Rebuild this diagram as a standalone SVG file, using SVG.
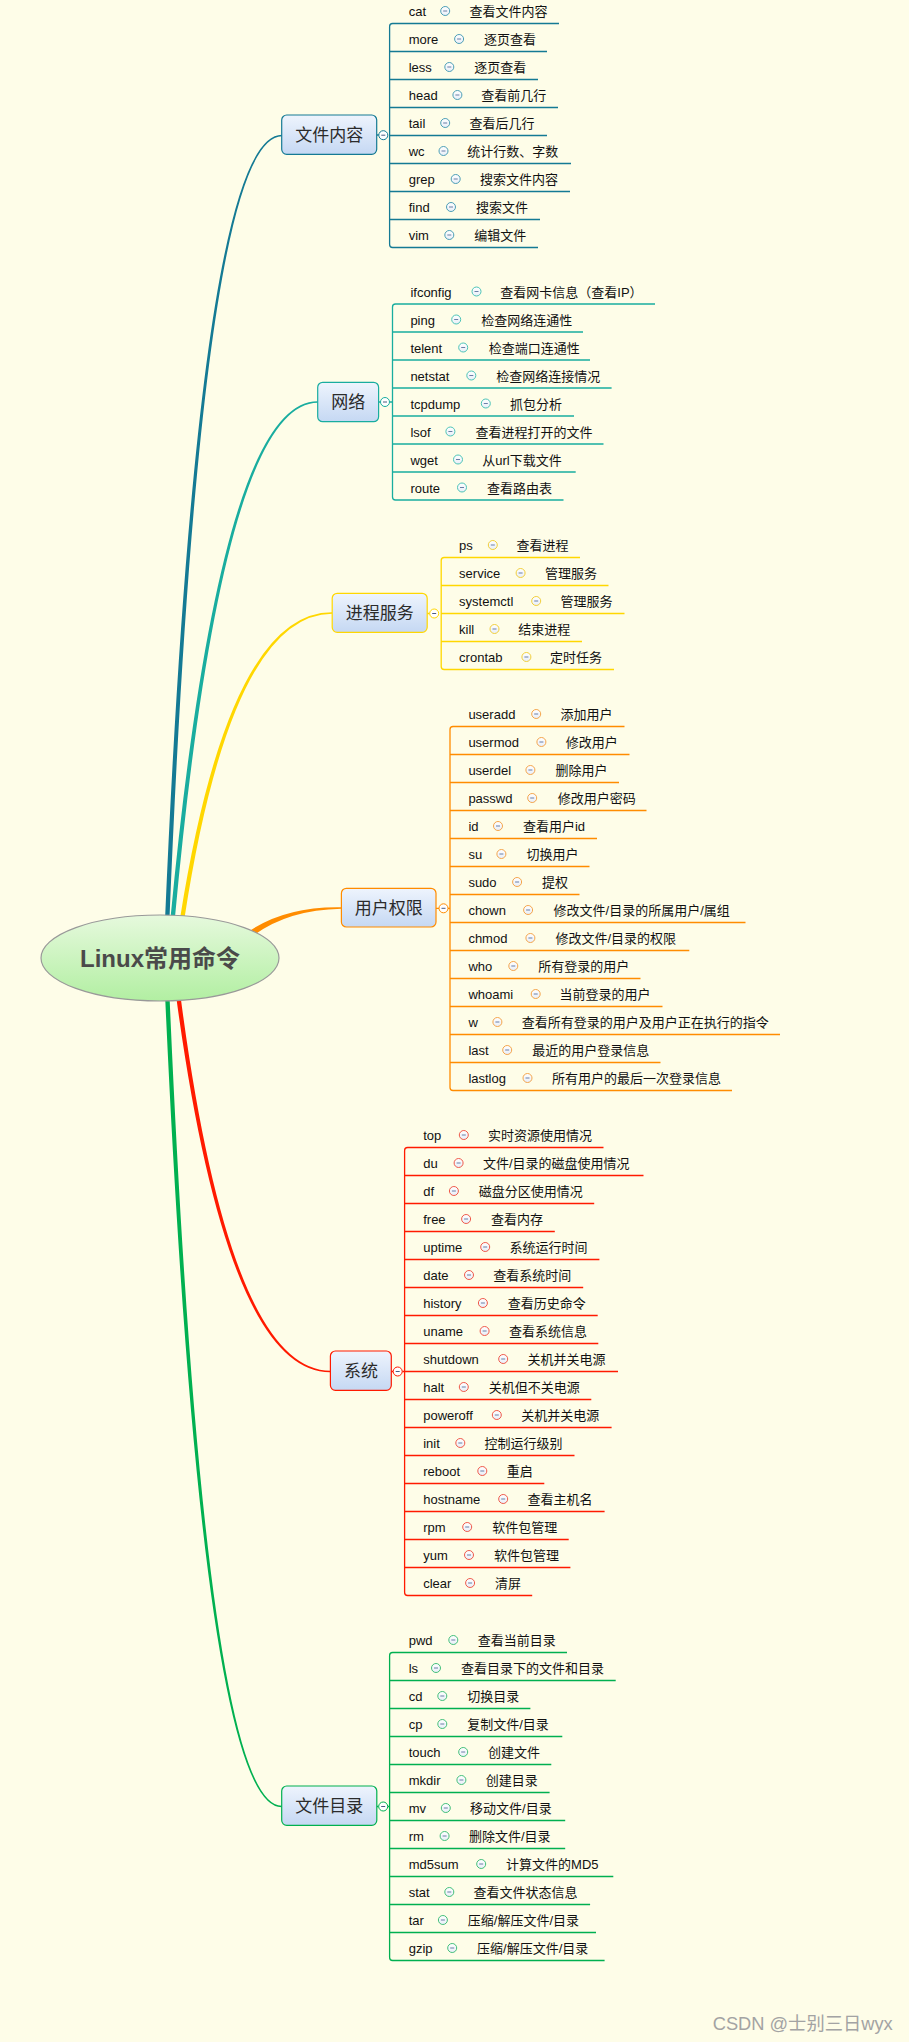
<svg xmlns="http://www.w3.org/2000/svg" xmlns:xlink="http://www.w3.org/1999/xlink" width="909" height="2042" viewBox="0 0 909 2042">
<style>
.t{font-family:"Liberation Sans","Noto Sans CJK SC",sans-serif;font-size:13px;fill:#111}
.tp{font-family:"Noto Sans CJK SC",sans-serif;font-size:17px;fill:#2b2b2b;text-anchor:middle}
.root{font-family:"Liberation Sans","Noto Sans CJK SC",sans-serif;font-size:24px;font-weight:bold;fill:#4a4a4a;text-anchor:middle}
.ln{fill:none;stroke-width:1.3}
.box{fill:url(#gb);stroke-width:1.2}
.wm{font-family:"Liberation Sans","Noto Sans CJK SC",sans-serif;font-size:18.5px;fill:#a3a3a3}
</style>
<defs>
<linearGradient id="gb" x1="0" y1="0" x2="0" y2="1"><stop offset="0" stop-color="#eef4fd"/><stop offset="1" stop-color="#c5d8f3"/></linearGradient>
<linearGradient id="ge" x1="0" y1="0" x2="0" y2="1"><stop offset="0" stop-color="#e6f9dd"/><stop offset="1" stop-color="#b2efa2"/></linearGradient>
<linearGradient id="ig" x1="0" y1="0" x2="0" y2="1"><stop offset="0" stop-color="#ffffff"/><stop offset="1" stop-color="#e8eef8"/></linearGradient>
<g id="i1"><circle r="4.5" fill="url(#ig)" stroke="#4d9fb5"/><path d="M-2 0H2" stroke="#6b7fa6"/></g>
<g id="i2"><circle r="4.5" fill="url(#ig)" stroke="#4cc4b6"/><path d="M-2 0H2" stroke="#6b7fa6"/></g>
<g id="i3"><circle r="4.5" fill="url(#ig)" stroke="#f2cf3a"/><path d="M-2 0H2" stroke="#6b7fa6"/></g>
<g id="i4"><circle r="4.5" fill="url(#ig)" stroke="#f5a54a"/><path d="M-2 0H2" stroke="#6b7fa6"/></g>
<g id="i5"><circle r="4.5" fill="url(#ig)" stroke="#f05a4a"/><path d="M-2 0H2" stroke="#6b7fa6"/></g>
<g id="i6"><circle r="4.5" fill="url(#ig)" stroke="#45c07a"/><path d="M-2 0H2" stroke="#6b7fa6"/></g>
</defs>
<rect width="909" height="2042" fill="#fefde8"/>

<g id="connectors">
<path d="M165.1 918 Q198.7 134.2 282 134.8 L282 136.2 Q201.3 136.8 169.5 918 Z" fill="#147a94"/>
<path d="M170.5 918 Q219.7 400.7 317.7 401.3 L317.7 402.7 Q222.3 403.3 174.9 918 Z" fill="#19ad9f"/>
<path d="M180.1 918 Q228.7 611.7 332.2 612.3 L332.2 613.7 Q231.3 614.3 184.5 918 Z" fill="#ffd700"/>
<path d="M251 930 Q287.3 906.3 341.4 907.3 L341.4 908.7 Q288.7 909.7 254 935 Z" fill="#ff8c00"/>
<path d="M176.1 996 Q226.7 1372.8 330.4 1372.2 L330.4 1370.8 Q229.3 1370.2 180.5 996 Z" fill="#ff1a00"/>
<path d="M165.1 996 Q201.7 1807.8 281.7 1807.2 L281.7 1805.8 Q204.3 1805.2 169.5 996 Z" fill="#00b050"/>
<path class="ln" stroke="#147a94" d="M559 23.5 H392.6 Q389.6 23.5 389.6 26.5 V244.5 Q389.6 247.5 392.6 247.5 H538 M389.6 51.5 H547 M389.6 79.5 H538 M389.6 107.5 H558 M389.6 135.5 H547 M389.6 163.5 H571 M389.6 191.5 H570 M389.6 219.5 H540 M376.7 135 H379"/>
<path class="ln" stroke="#19ad9f" d="M655 304 H395.5 Q392.5 304 392.5 307 V497 Q392.5 500 395.5 500 H563.5 M392.5 332 H583 M392.5 360 H590 M392.5 388 H611.6 M392.5 416 H574 M392.5 444 H603.5 M392.5 472 H575.7 M389.5 402 H392.5 M378.6 402 H380.5"/>
<path class="ln" stroke="#ffd700" d="M580 557.5 H444.2 Q441.2 557.5 441.2 560.5 V666.5 Q441.2 669.5 444.2 669.5 H614 M441.2 585.5 H608.5 M441.2 613.5 H624.5 M441.2 641.5 H582 M427.2 613.5 H429.7"/>
<path class="ln" stroke="#ff8c00" d="M624.5 726.5 H453 Q450 726.5 450 729.5 V1087.5 Q450 1090.5 453 1090.5 H732 M450 754.5 H629.5 M450 782.5 H619 M450 810.5 H646.5 M450 838.5 H597 M450 866.5 H589.5 M450 894.5 H579.5 M450 922.5 H745.5 M450 950.5 H689.3 M450 978.5 H640.5 M450 1006.5 H662.5 M450 1034.5 H780 M450 1062.5 H660.5 M436 908.3 H439 M448 908.3 H450"/>
<path class="ln" stroke="#ff1a00" d="M603.5 1147.5 H407.6 Q404.6 1147.5 404.6 1150.5 V1592.5 Q404.6 1595.5 407.6 1595.5 H532.2 M404.6 1175.5 H643.5 M404.6 1203.5 H594.2 M404.6 1231.5 H554.8 M404.6 1259.5 H599.4 M404.6 1287.5 H583.2 M404.6 1315.5 H597.7 M404.6 1343.5 H598.3 M404.6 1371.5 H618 M404.6 1399.5 H591.3 M404.6 1427.5 H611.6 M404.6 1455.5 H574.5 M404.6 1483.5 H544.3 M404.6 1511.5 H604.6 M404.6 1539.5 H568.7 M404.6 1567.5 H570.4 M391.3 1371.5 H393.2 M402.2 1371.5 H404.6"/>
<path class="ln" stroke="#00b050" d="M567 1652.5 H392.6 Q389.6 1652.5 389.6 1655.5 V1957.5 Q389.6 1960.5 392.6 1960.5 H604.6 M389.6 1680.5 H615.7 M389.6 1708.5 H530.4 M389.6 1736.5 H562.3 M389.6 1764.5 H551.3 M389.6 1792.5 H549.6 M389.6 1820.5 H565.2 M389.6 1848.5 H565.2 M389.6 1876.5 H613.3 M389.6 1904.5 H590.1 M389.6 1932.5 H596 M376.8 1806.5 H378.7 M387.7 1806.5 H389.6"/>
</g>

<g id="root">
<ellipse cx="160" cy="958" rx="119" ry="43" fill="url(#ge)" stroke="#999" stroke-width="1.2"/>
<text class="root" x="160" y="967">Linux常用命令</text>
</g>

<g id="topic-1">
<rect class="box" x="281.7" y="115" width="95" height="39.3" rx="5" stroke="#147a94"/>
<text class="tp" x="329.2" y="140.7">文件内容</text>
<circle cx="383.3" cy="135.2" r="4.5" fill="#fff" stroke="#147a94"/><path d="M381.3 135.2H385.3" stroke="#4a5a80"/>
</g>
<g id="topic-2">
<rect class="box" x="317.7" y="382.3" width="60.9" height="39.4" rx="5" stroke="#19ad9f"/>
<text class="tp" x="348.2" y="408">网络</text>
<circle cx="385" cy="402" r="4.5" fill="#fff" stroke="#19ad9f"/><path d="M383 402H387" stroke="#4a5a80"/>
</g>
<g id="topic-3">
<rect class="box" x="332.2" y="593.3" width="95" height="39" rx="5" stroke="#ffd700"/>
<text class="tp" x="379.7" y="618.8">进程服务</text>
<circle cx="434.2" cy="613.5" r="4.5" fill="#fff" stroke="#ffd700"/><path d="M432.2 613.5H436.2" stroke="#4a5a80"/>
</g>
<g id="topic-4">
<rect class="box" x="341.4" y="888.3" width="94.6" height="38.7" rx="5" stroke="#ff8c00"/>
<text class="tp" x="388.7" y="913.8">用户权限</text>
<circle cx="443.5" cy="908.3" r="4.5" fill="#fff" stroke="#ff8c00"/><path d="M441.5 908.3H445.5" stroke="#4a5a80"/>
</g>
<g id="topic-5">
<rect class="box" x="330.4" y="1351" width="60.9" height="39.3" rx="5" stroke="#ff1a00"/>
<text class="tp" x="360.9" y="1376.8">系统</text>
<circle cx="397.7" cy="1371.5" r="4.5" fill="#fff" stroke="#ff1a00"/><path d="M395.7 1371.5H399.7" stroke="#4a5a80"/>
</g>
<g id="topic-6">
<rect class="box" x="281.7" y="1786" width="95.1" height="39.3" rx="5" stroke="#00b050"/>
<text class="tp" x="329.3" y="1811.8">文件目录</text>
<circle cx="383.2" cy="1806.5" r="4.5" fill="#fff" stroke="#00b050"/><path d="M381.2 1806.5H385.2" stroke="#4a5a80"/>
</g>

<g id="n-cat"><text class="t" x="408.7" y="16">cat</text><use href="#i1" x="445.2" y="11"/><text class="t" x="469.6" y="16">查看文件内容</text></g>
<g id="n-more"><text class="t" x="408.7" y="44">more</text><use href="#i1" x="459.1" y="39"/><text class="t" x="484.1" y="44">逐页查看</text></g>
<g id="n-less"><text class="t" x="408.7" y="72">less</text><use href="#i1" x="449.3" y="67"/><text class="t" x="474.2" y="72">逐页查看</text></g>
<g id="n-head"><text class="t" x="408.7" y="100">head</text><use href="#i1" x="457.4" y="95"/><text class="t" x="481.2" y="100">查看前几行</text></g>
<g id="n-tail"><text class="t" x="408.7" y="128">tail</text><use href="#i1" x="445.2" y="123"/><text class="t" x="469.6" y="128">查看后几行</text></g>
<g id="n-wc"><text class="t" x="408.7" y="156">wc</text><use href="#i1" x="443.5" y="151"/><text class="t" x="467.2" y="156">统计行数、字数</text></g>
<g id="n-grep"><text class="t" x="408.7" y="184">grep</text><use href="#i1" x="455.7" y="179"/><text class="t" x="480" y="184">搜索文件内容</text></g>
<g id="n-find"><text class="t" x="408.7" y="212">find</text><use href="#i1" x="451" y="207"/><text class="t" x="476" y="212">搜索文件</text></g>
<g id="n-vim"><text class="t" x="408.7" y="240">vim</text><use href="#i1" x="449.3" y="235"/><text class="t" x="474.2" y="240">编辑文件</text></g>

<g id="n-ifconfig"><text class="t" x="410.4" y="296.5">ifconfig</text><use href="#i2" x="476.5" y="291.5"/><text class="t" x="500.3" y="296.5">查看网卡信息（查看IP）</text></g>
<g id="n-ping"><text class="t" x="410.4" y="324.5">ping</text><use href="#i2" x="456.2" y="319.5"/><text class="t" x="481.2" y="324.5">检查网络连通性</text></g>
<g id="n-telent"><text class="t" x="410.4" y="352.5">telent</text><use href="#i2" x="463.2" y="347.5"/><text class="t" x="488.7" y="352.5">检查端口连通性</text></g>
<g id="n-netstat"><text class="t" x="410.4" y="380.5">netstat</text><use href="#i2" x="471.3" y="375.5"/><text class="t" x="496.2" y="380.5">检查网络连接情况</text></g>
<g id="n-tcpdump"><text class="t" x="410.4" y="408.5">tcpdump</text><use href="#i2" x="485.8" y="403.5"/><text class="t" x="510" y="408.5">抓包分析</text></g>
<g id="n-lsof"><text class="t" x="410.4" y="436.5">lsof</text><use href="#i2" x="450.4" y="431.5"/><text class="t" x="475.4" y="436.5">查看进程打开的文件</text></g>
<g id="n-wget"><text class="t" x="410.4" y="464.5">wget</text><use href="#i2" x="458" y="459.5"/><text class="t" x="482.3" y="464.5">从url下载文件</text></g>
<g id="n-route"><text class="t" x="410.4" y="492.5">route</text><use href="#i2" x="462" y="487.5"/><text class="t" x="487" y="492.5">查看路由表</text></g>

<g id="n-ps"><text class="t" x="459.1" y="550">ps</text><use href="#i3" x="492.8" y="545"/><text class="t" x="516.5" y="550">查看进程</text></g>
<g id="n-service"><text class="t" x="459.1" y="578">service</text><use href="#i3" x="520.6" y="573"/><text class="t" x="545" y="578">管理服务</text></g>
<g id="n-systemctl"><text class="t" x="459.1" y="606">systemctl</text><use href="#i3" x="536.2" y="601"/><text class="t" x="560.6" y="606">管理服务</text></g>
<g id="n-kill"><text class="t" x="459.1" y="634">kill</text><use href="#i3" x="494.5" y="629"/><text class="t" x="518.3" y="634">结束进程</text></g>
<g id="n-crontab"><text class="t" x="459.1" y="662">crontab</text><use href="#i3" x="526.4" y="657"/><text class="t" x="550.1" y="662">定时任务</text></g>

<g id="n-useradd"><text class="t" x="468.4" y="719">useradd</text><use href="#i4" x="536.2" y="714"/><text class="t" x="560.6" y="719">添加用户</text></g>
<g id="n-usermod"><text class="t" x="468.4" y="747">usermod</text><use href="#i4" x="541.4" y="742"/><text class="t" x="565.8" y="747">修改用户</text></g>
<g id="n-userdel"><text class="t" x="468.4" y="775">userdel</text><use href="#i4" x="530.4" y="770"/><text class="t" x="555.4" y="775">删除用户</text></g>
<g id="n-passwd"><text class="t" x="468.4" y="803">passwd</text><use href="#i4" x="532.2" y="798"/><text class="t" x="557.7" y="803">修改用户密码</text></g>
<g id="n-id"><text class="t" x="468.4" y="831">id</text><use href="#i4" x="498" y="826"/><text class="t" x="522.9" y="831">查看用户id</text></g>
<g id="n-su"><text class="t" x="468.4" y="859">su</text><use href="#i4" x="501.4" y="854"/><text class="t" x="526.4" y="859">切换用户</text></g>
<g id="n-sudo"><text class="t" x="468.4" y="887">sudo</text><use href="#i4" x="517.1" y="882"/><text class="t" x="542" y="887">提权</text></g>
<g id="n-chown"><text class="t" x="468.4" y="915">chown</text><use href="#i4" x="528.1" y="910"/><text class="t" x="553.6" y="915">修改文件/目录的所属用户/属组</text></g>
<g id="n-chmod"><text class="t" x="468.4" y="943">chmod</text><use href="#i4" x="530.4" y="938"/><text class="t" x="555.4" y="943">修改文件/目录的权限</text></g>
<g id="n-who"><text class="t" x="468.4" y="971">who</text><use href="#i4" x="513.3" y="966"/><text class="t" x="538.3" y="971">所有登录的用户</text></g>
<g id="n-whoami"><text class="t" x="468.4" y="999">whoami</text><use href="#i4" x="535.7" y="994"/><text class="t" x="559.4" y="999">当前登录的用户</text></g>
<g id="n-w"><text class="t" x="468.4" y="1027">w</text><use href="#i4" x="497.4" y="1022"/><text class="t" x="521.7" y="1027">查看所有登录的用户及用户正在执行的指令</text></g>
<g id="n-last"><text class="t" x="468.4" y="1055">last</text><use href="#i4" x="507.2" y="1050"/><text class="t" x="532.2" y="1055">最近的用户登录信息</text></g>
<g id="n-lastlog"><text class="t" x="468.4" y="1083">lastlog</text><use href="#i4" x="527.5" y="1078"/><text class="t" x="551.9" y="1083">所有用户的最后一次登录信息</text></g>

<g id="n-top"><text class="t" x="423.2" y="1140">top</text><use href="#i5" x="463.8" y="1135"/><text class="t" x="488.1" y="1140">实时资源使用情况</text></g>
<g id="n-du"><text class="t" x="423.2" y="1168">du</text><use href="#i5" x="458.6" y="1163"/><text class="t" x="482.9" y="1168">文件/目录的磁盘使用情况</text></g>
<g id="n-df"><text class="t" x="423.2" y="1196">df</text><use href="#i5" x="453.9" y="1191"/><text class="t" x="478.8" y="1196">磁盘分区使用情况</text></g>
<g id="n-free"><text class="t" x="423.2" y="1224">free</text><use href="#i5" x="466.1" y="1219"/><text class="t" x="491" y="1224">查看内存</text></g>
<g id="n-uptime"><text class="t" x="423.2" y="1252">uptime</text><use href="#i5" x="485.2" y="1247"/><text class="t" x="509.6" y="1252">系统运行时间</text></g>
<g id="n-date"><text class="t" x="423.2" y="1280">date</text><use href="#i5" x="469" y="1275"/><text class="t" x="493.3" y="1280">查看系统时间</text></g>
<g id="n-history"><text class="t" x="423.2" y="1308">history</text><use href="#i5" x="482.9" y="1303"/><text class="t" x="507.8" y="1308">查看历史命令</text></g>
<g id="n-uname"><text class="t" x="423.2" y="1336">uname</text><use href="#i5" x="484.6" y="1331"/><text class="t" x="509" y="1336">查看系统信息</text></g>
<g id="n-shutdown"><text class="t" x="423.2" y="1364">shutdown</text><use href="#i5" x="503.2" y="1359"/><text class="t" x="527.5" y="1364">关机并关电源</text></g>
<g id="n-halt"><text class="t" x="423.2" y="1392">halt</text><use href="#i5" x="463.8" y="1387"/><text class="t" x="488.7" y="1392">关机但不关电源</text></g>
<g id="n-poweroff"><text class="t" x="423.2" y="1420">poweroff</text><use href="#i5" x="496.8" y="1415"/><text class="t" x="521.2" y="1420">关机并关电源</text></g>
<g id="n-init"><text class="t" x="423.2" y="1448">init</text><use href="#i5" x="460.3" y="1443"/><text class="t" x="484.6" y="1448">控制运行级别</text></g>
<g id="n-reboot"><text class="t" x="423.2" y="1476">reboot</text><use href="#i5" x="482.3" y="1471"/><text class="t" x="506.7" y="1476">重启</text></g>
<g id="n-hostname"><text class="t" x="423.2" y="1504">hostname</text><use href="#i5" x="503.2" y="1499"/><text class="t" x="527.5" y="1504">查看主机名</text></g>
<g id="n-rpm"><text class="t" x="423.2" y="1532">rpm</text><use href="#i5" x="467.2" y="1527"/><text class="t" x="492.2" y="1532">软件包管理</text></g>
<g id="n-yum"><text class="t" x="423.2" y="1560">yum</text><use href="#i5" x="469" y="1555"/><text class="t" x="493.9" y="1560">软件包管理</text></g>
<g id="n-clear"><text class="t" x="423.2" y="1588">clear</text><use href="#i5" x="470.1" y="1583"/><text class="t" x="495" y="1588">清屏</text></g>

<g id="n-pwd"><text class="t" x="408.7" y="1645">pwd</text><use href="#i6" x="453.3" y="1640"/><text class="t" x="477.7" y="1645">查看当前目录</text></g>
<g id="n-ls"><text class="t" x="408.7" y="1673">ls</text><use href="#i6" x="436" y="1668"/><text class="t" x="460.9" y="1673">查看目录下的文件和目录</text></g>
<g id="n-cd"><text class="t" x="408.7" y="1701">cd</text><use href="#i6" x="442.3" y="1696"/><text class="t" x="467.2" y="1701">切换目录</text></g>
<g id="n-cp"><text class="t" x="408.7" y="1729">cp</text><use href="#i6" x="442.3" y="1724"/><text class="t" x="467.2" y="1729">复制文件/目录</text></g>
<g id="n-touch"><text class="t" x="408.7" y="1757">touch</text><use href="#i6" x="463.2" y="1752"/><text class="t" x="488.1" y="1757">创建文件</text></g>
<g id="n-mkdir"><text class="t" x="408.7" y="1785">mkdir</text><use href="#i6" x="461.4" y="1780"/><text class="t" x="485.8" y="1785">创建目录</text></g>
<g id="n-mv"><text class="t" x="408.7" y="1813">mv</text><use href="#i6" x="445.8" y="1808"/><text class="t" x="470.1" y="1813">移动文件/目录</text></g>
<g id="n-rm"><text class="t" x="408.7" y="1841">rm</text><use href="#i6" x="444.6" y="1836"/><text class="t" x="469" y="1841">删除文件/目录</text></g>
<g id="n-md5sum"><text class="t" x="408.7" y="1869">md5sum</text><use href="#i6" x="481.2" y="1864"/><text class="t" x="506.1" y="1869">计算文件的MD5</text></g>
<g id="n-stat"><text class="t" x="408.7" y="1897">stat</text><use href="#i6" x="449.3" y="1892"/><text class="t" x="473.6" y="1897">查看文件状态信息</text></g>
<g id="n-tar"><text class="t" x="408.7" y="1925">tar</text><use href="#i6" x="442.9" y="1920"/><text class="t" x="467.8" y="1925">压缩/解压文件/目录</text></g>
<g id="n-gzip"><text class="t" x="408.7" y="1953">gzip</text><use href="#i6" x="452.2" y="1948"/><text class="t" x="477.1" y="1953">压缩/解压文件/目录</text></g>

<text class="wm" x="712.7" y="2030" textLength="180" lengthAdjust="spacingAndGlyphs">CSDN @士别三日wyx</text>
</svg>
